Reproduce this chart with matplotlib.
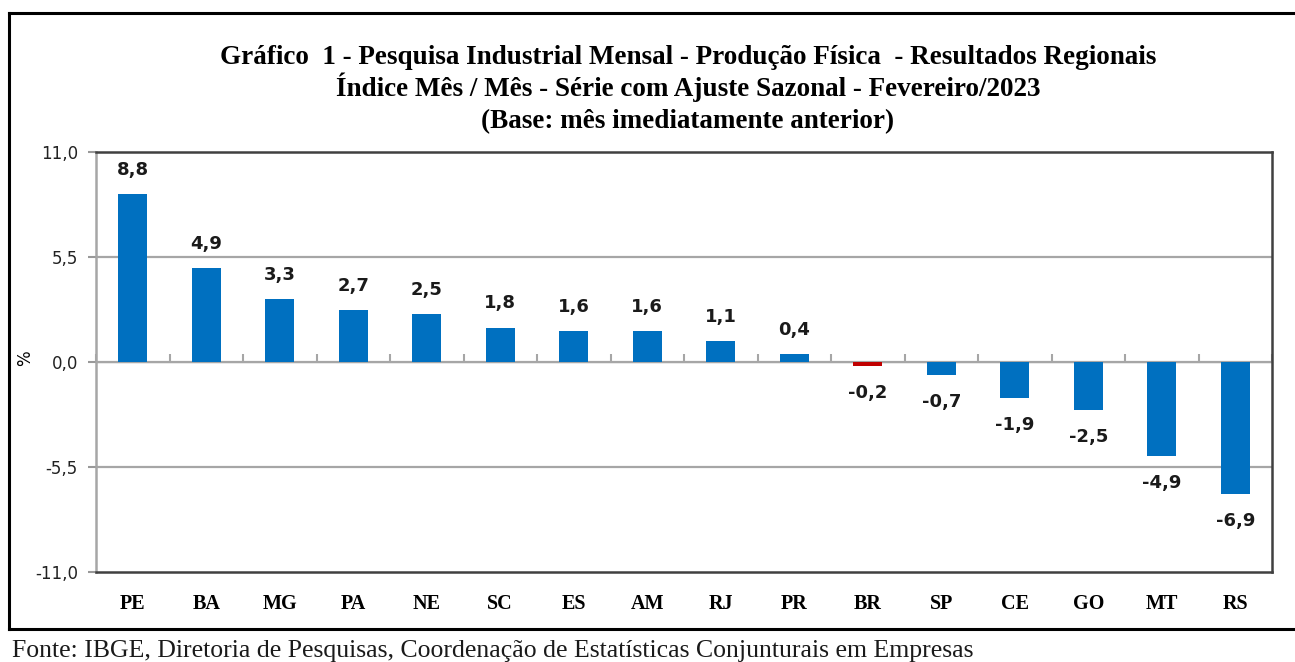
import numpy as np
import matplotlib
matplotlib.use('Agg')
import matplotlib.pyplot as plt
from matplotlib.lines import Line2D

# data
regions = ['PE', 'BA', 'MG', 'PA', 'NE', 'SC', 'ES', 'AM', 'RJ', 'PR',
           'BR', 'SP', 'CE', 'GO', 'MT', 'RS']
values = [8.8, 4.9, 3.3, 2.7, 2.5, 1.8, 1.6, 1.6, 1.1, 0.4,
          -0.2, -0.7, -1.9, -2.5, -4.9, -6.9]
yticks = [-11.0, -5.5, 0.0, 5.5, 11.0]
highlight = 'BR'

title_lines = ['Gráfico  1 - Pesquisa Industrial Mensal - Produção Física  - Resultados Regionais',
               'Índice Mês / Mês - Série com Ajuste Sazonal - Fevereiro/2023',
               '(Base: mês imediatamente anterior)']
source = 'Fonte: IBGE, Diretoria de Pesquisas, Coordenação de Estatísticas Conjunturais em Empresas'

W, H = 1295, 662
fig = plt.figure(figsize=(W / 100, H / 100), dpi=100)

def fx(px):
    return px / W

def fy(py):
    return 1 - py / H

# outer frame
for (x0, y0, x1, y1) in [(9, 13, 1295, 13), (9, 13, 9, 629), (9, 629, 1295, 629)]:
    fig.add_artist(Line2D([fx(x0), fx(x1)], [fy(y0), fy(y1)], color='black', lw=2.2))

ax = fig.add_axes([fx(96), fy(572), fx(1272 - 96), fy(152) - fy(572)])
x = np.arange(len(regions))
colors = ['#C00000' if r == highlight else '#0070C0' for r in regions]
ax.bar(x, values, width=0.4, color=colors, zorder=3)

ax.set_ylim(-11, 11)
ax.set_xlim(-0.5, len(regions) - 0.5)
ax.set_yticks(yticks)
ax.set_yticklabels([f'{v:.1f}'.replace('.', ',') for v in yticks],
                   fontsize=12, family='DejaVu Sans', color='#222222')
ax.tick_params(axis='y', direction='out', length=6, color='#999999', width=1.5, pad=7)
for v in yticks[1:-1]:
    ax.axhline(v, color='#A6A6A6', lw=1.6, zorder=1)

ax.set_xticks(x)
ax.set_xticklabels(regions, fontsize=14.5, family='Liberation Serif', fontweight='bold')
ax.tick_params(axis='x', length=0, pad=16)

ax.spines['left'].set_color('#A6A6A6')
ax.spines['left'].set_linewidth(1.8)
for s in ['top', 'right', 'bottom']:
    ax.spines[s].set_color('#404040')
    ax.spines[s].set_linewidth(1.8)

# category axis ticks on the zero line
sec = ax.secondary_xaxis(0.5)
sec.set_xticks(np.arange(len(regions) + 1) - 0.5)
sec.set_xticklabels([])
sec.tick_params(direction='out', length=6, color='#A6A6A6', width=1.5)
sec.spines['bottom'].set_visible(False)

ax.set_ylabel('%', fontsize=12, family='DejaVu Sans', labelpad=2)
ax.yaxis.set_label_coords(-0.053, 0.51)

for xi, v in zip(x, values):
    off = 11 if v >= 0 else -13
    ax.annotate(f'{v:.1f}'.replace('.', ','), (xi, v), xytext=(0, off),
                textcoords='offset points', ha='center',
                va='bottom' if v >= 0 else 'top',
                fontsize=13, fontweight='bold', family='DejaVu Sans', color='#1a1a1a')

for line, base in zip(title_lines, [64, 96, 128]):
    fig.text(fx(688), fy(base), line, ha='center', va='baseline', fontsize=19.5,
             family='Liberation Serif', fontweight='bold')
fig.text(fx(12), fy(662), source, ha='left', va='bottom', fontsize=18.5,
         family='Liberation Serif', color='#1a1a1a')

fig.savefig('out.png', dpi=100)
